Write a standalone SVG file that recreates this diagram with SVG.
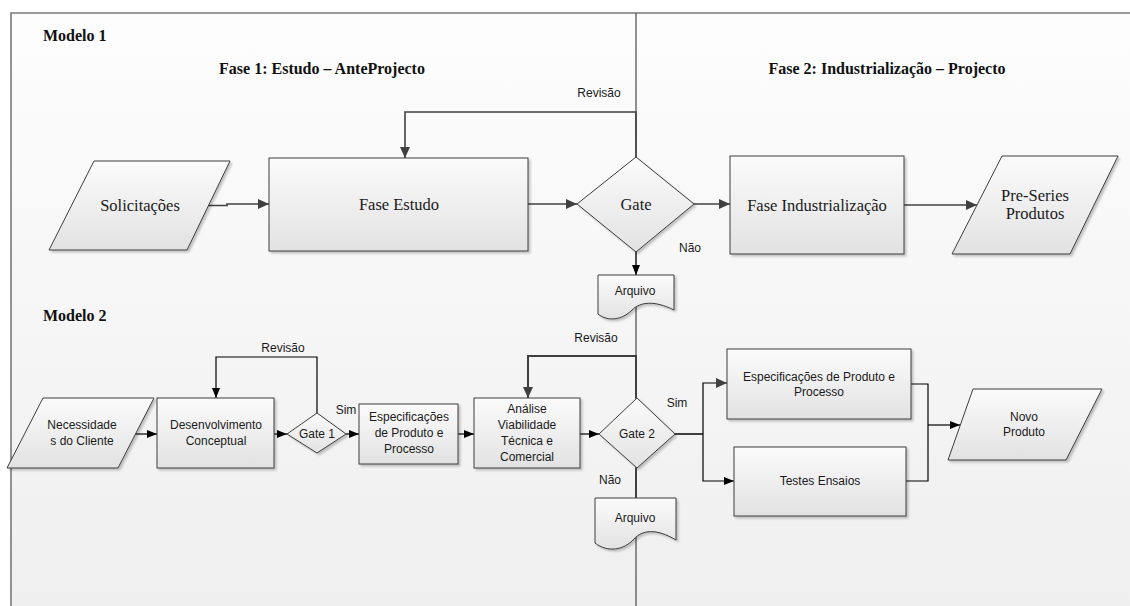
<svg xmlns="http://www.w3.org/2000/svg" width="1130" height="606" viewBox="0 0 1130 606">
  <defs>
    <linearGradient id="bg" x1="0" y1="0" x2="0" y2="1">
      <stop offset="0" stop-color="#fdfdfd"/>
      <stop offset="1" stop-color="#efefef"/>
    </linearGradient>
    <linearGradient id="nodeFill" x1="0" y1="0" x2="0" y2="1">
      <stop offset="0" stop-color="#fbfbfb"/>
      <stop offset="1" stop-color="#e2e2e2"/>
    </linearGradient>
    <filter id="shadow" x="-10%" y="-10%" width="125%" height="130%">
      <feDropShadow dx="2" dy="2" stdDeviation="0.8" flood-color="#000" flood-opacity="0.22"/>
    </filter>
    <marker id="arrowGray" markerUnits="userSpaceOnUse" markerWidth="11" markerHeight="10" refX="11" refY="5" orient="auto">
      <path d="M0,0 L11,5 L0,10 z" fill="#404040"/>
    </marker>
    <marker id="arrowBlack" markerUnits="userSpaceOnUse" markerWidth="10" markerHeight="8" refX="10" refY="4" orient="auto">
      <path d="M0,0 L10,4 L0,8 z" fill="#000"/>
    </marker>
  </defs>
  <style>
    .node { fill: url(#nodeFill); stroke: #3c3c3c; stroke-width: 1; filter: url(#shadow); }
    .serif { font-family: "Liberation Serif", "Times New Roman", serif; font-size: 16.5px; fill: #1a1a1a; text-anchor: middle; }
    .sans { font-family: "Liberation Sans", Arial, sans-serif; font-size: 12px; fill: #1a1a1a; text-anchor: middle; }
    .title { font-family: "Liberation Serif", "Times New Roman", serif; font-size: 16px; font-weight: bold; fill: #111; }
    .c1 { fill: none; stroke: #404040; stroke-width: 1.6; }
    .c2 { fill: none; stroke: #000; stroke-width: 1.2; }
    .c2g { fill: none; stroke: #404040; stroke-width: 2; }
  </style>

  <!-- page background and frame -->
  <rect x="11" y="13" width="1119" height="593" fill="url(#bg)"/>
  <path d="M11,606 V13 H1130" fill="none" stroke="#7a7a7a" stroke-width="1.6"/>
  <line x1="636" y1="13" x2="636" y2="606" stroke="#555" stroke-width="1.3"/>

  <!-- headings -->
  <g id="headings">
    <text class="title" x="43" y="41">Modelo 1</text>
    <text class="title" x="322" y="74" text-anchor="middle">Fase 1: Estudo – AnteProjecto</text>
    <text class="title" x="887" y="74" text-anchor="middle">Fase 2: Industrialização – Projecto</text>
    <text class="title" x="43" y="321">Modelo 2</text>
  </g>

  <!-- connectors -->
  <g id="connectors">
    <!-- model 1 -->
    <path class="c1" d="M207,205.5 H227 V204 H269" marker-end="url(#arrowGray)"/>
    <path class="c1" d="M528,204 H577" marker-end="url(#arrowGray)"/>
    <path class="c1" d="M694,204 H730" marker-end="url(#arrowGray)"/>
    <path class="c1" d="M904,205 H977" marker-end="url(#arrowGray)"/>
    <path class="c1" d="M636,157 V112 H405 V158" marker-end="url(#arrowGray)"/>
    <path class="c1" d="M636,252 V275" marker-end="url(#arrowBlack)"/>
    <!-- model 2 -->
    <path class="c2" d="M130,434 H157" marker-end="url(#arrowBlack)"/>
    <path class="c2" d="M274,434 H287" marker-end="url(#arrowBlack)"/>
    <path class="c2" d="M346,434 H359" marker-end="url(#arrowBlack)"/>
    <path class="c2" d="M317,413 V357 H216 V398" marker-end="url(#arrowBlack)"/>
    <path class="c2" d="M458,434 H474" marker-end="url(#arrowBlack)"/>
    <path class="c2" d="M580,434 H599" marker-end="url(#arrowBlack)"/>
    <path class="c2g" d="M636,398 V356 H528 V398" marker-end="url(#arrowGray)"/>
    <path class="c2g" d="M636,468 V498"/>
    <path class="c2g" d="M675,434 H703"/>
    <path class="c2" d="M703,434 V383 H727" marker-end="url(#arrowGray)"/>
    <path class="c2" d="M703,434 V481 H734" marker-end="url(#arrowBlack)"/>
    <path class="c2" d="M911,384 H928 V481 H906"/>
    <path class="c2" d="M928,425 H960" marker-end="url(#arrowBlack)"/>
  </g>

  <!-- connector labels -->
  <g id="labels">
    <text class="sans" x="599" y="97">Revisão</text>
    <text class="sans" x="690" y="252">Não</text>
    <text class="sans" x="283" y="352">Revisão</text>
    <text class="sans" x="346" y="414">Sim</text>
    <text class="sans" x="596" y="342">Revisão</text>
    <text class="sans" x="677" y="407">Sim</text>
    <text class="sans" x="610" y="484">Não</text>
  </g>

  <!-- model 1 nodes -->
  <g id="solicitacoes">
    <polygon class="node" points="94,161 230,161 187,250 49,250"/>
    <text class="serif" x="140" y="210.5">Solicitações</text>
  </g>
  <g id="fase-estudo">
    <rect class="node" x="269" y="158" width="259" height="93"/>
    <text class="serif" x="399" y="210">Fase Estudo</text>
  </g>
  <g id="gate">
    <polygon class="node" points="577,204 636,157 694,204 636,252"/>
    <text class="serif" x="636" y="209.5">Gate</text>
  </g>
  <g id="fase-industrializacao">
    <rect class="node" x="730" y="156" width="174" height="98"/>
    <text class="serif" x="817" y="210.5">Fase Industrialização</text>
  </g>
  <g id="pre-series">
    <polygon class="node" points="1002,156 1118,156 1070,254 952,254"/>
    <text class="serif" x="1035" y="200.5">Pre-Series</text>
    <text class="serif" x="1035" y="218.5">Produtos</text>
  </g>
  <g id="arquivo-1">
    <path class="node" d="M598,275 H674 V310 C654,300 640,302 632,310 C622,320 608,322 598,314 Z"/>
    <text class="sans" x="635" y="295">Arquivo</text>
  </g>

  <!-- model 2 nodes -->
  <g id="necessidades">
    <polygon class="node" points="43,398 154,398 118,468 7,468"/>
    <text class="sans" x="82" y="429">Necessidade</text>
    <text class="sans" x="82" y="444.5">s do Cliente</text>
  </g>
  <g id="desenvolvimento">
    <rect class="node" x="157" y="398" width="117" height="70"/>
    <text class="sans" x="216" y="429">Desenvolvimento</text>
    <text class="sans" x="216" y="444.5">Conceptual</text>
  </g>
  <g id="gate-1">
    <polygon class="node" points="287,434 317,413 346,434 317,453"/>
    <text class="sans" x="317" y="438">Gate 1</text>
  </g>
  <g id="especificacoes-1">
    <rect class="node" x="359" y="404" width="99" height="60"/>
    <text class="sans" x="409" y="421">Especificações</text>
    <text class="sans" x="409" y="437">de Produto e</text>
    <text class="sans" x="409" y="453">Processo</text>
  </g>
  <g id="analise">
    <rect class="node" x="474" y="398" width="106" height="70"/>
    <text class="sans" x="527" y="413">Análise</text>
    <text class="sans" x="527" y="429">Viabilidade</text>
    <text class="sans" x="527" y="445">Técnica e</text>
    <text class="sans" x="527" y="461">Comercial</text>
  </g>
  <g id="gate-2">
    <polygon class="node" points="599,434 637,398 675,434 637,468"/>
    <text class="sans" x="637" y="438">Gate 2</text>
  </g>
  <g id="arquivo-2">
    <path class="node" d="M595,498 H676 V540 C656,528 642,530 634,539 C624,550 608,553 595,543 Z"/>
    <text class="sans" x="635" y="522">Arquivo</text>
  </g>
  <g id="especificacoes-2">
    <rect class="node" x="727" y="349" width="184" height="70"/>
    <text class="sans" x="819" y="381">Especificações de Produto e</text>
    <text class="sans" x="819" y="396">Processo</text>
  </g>
  <g id="testes">
    <rect class="node" x="734" y="447" width="172" height="69"/>
    <text class="sans" x="820" y="485">Testes Ensaios</text>
  </g>
  <g id="novo-produto">
    <polygon class="node" points="973,389 1102,389 1066,460 948,460"/>
    <text class="sans" x="1024" y="421">Novo</text>
    <text class="sans" x="1024" y="436">Produto</text>
  </g>
</svg>
